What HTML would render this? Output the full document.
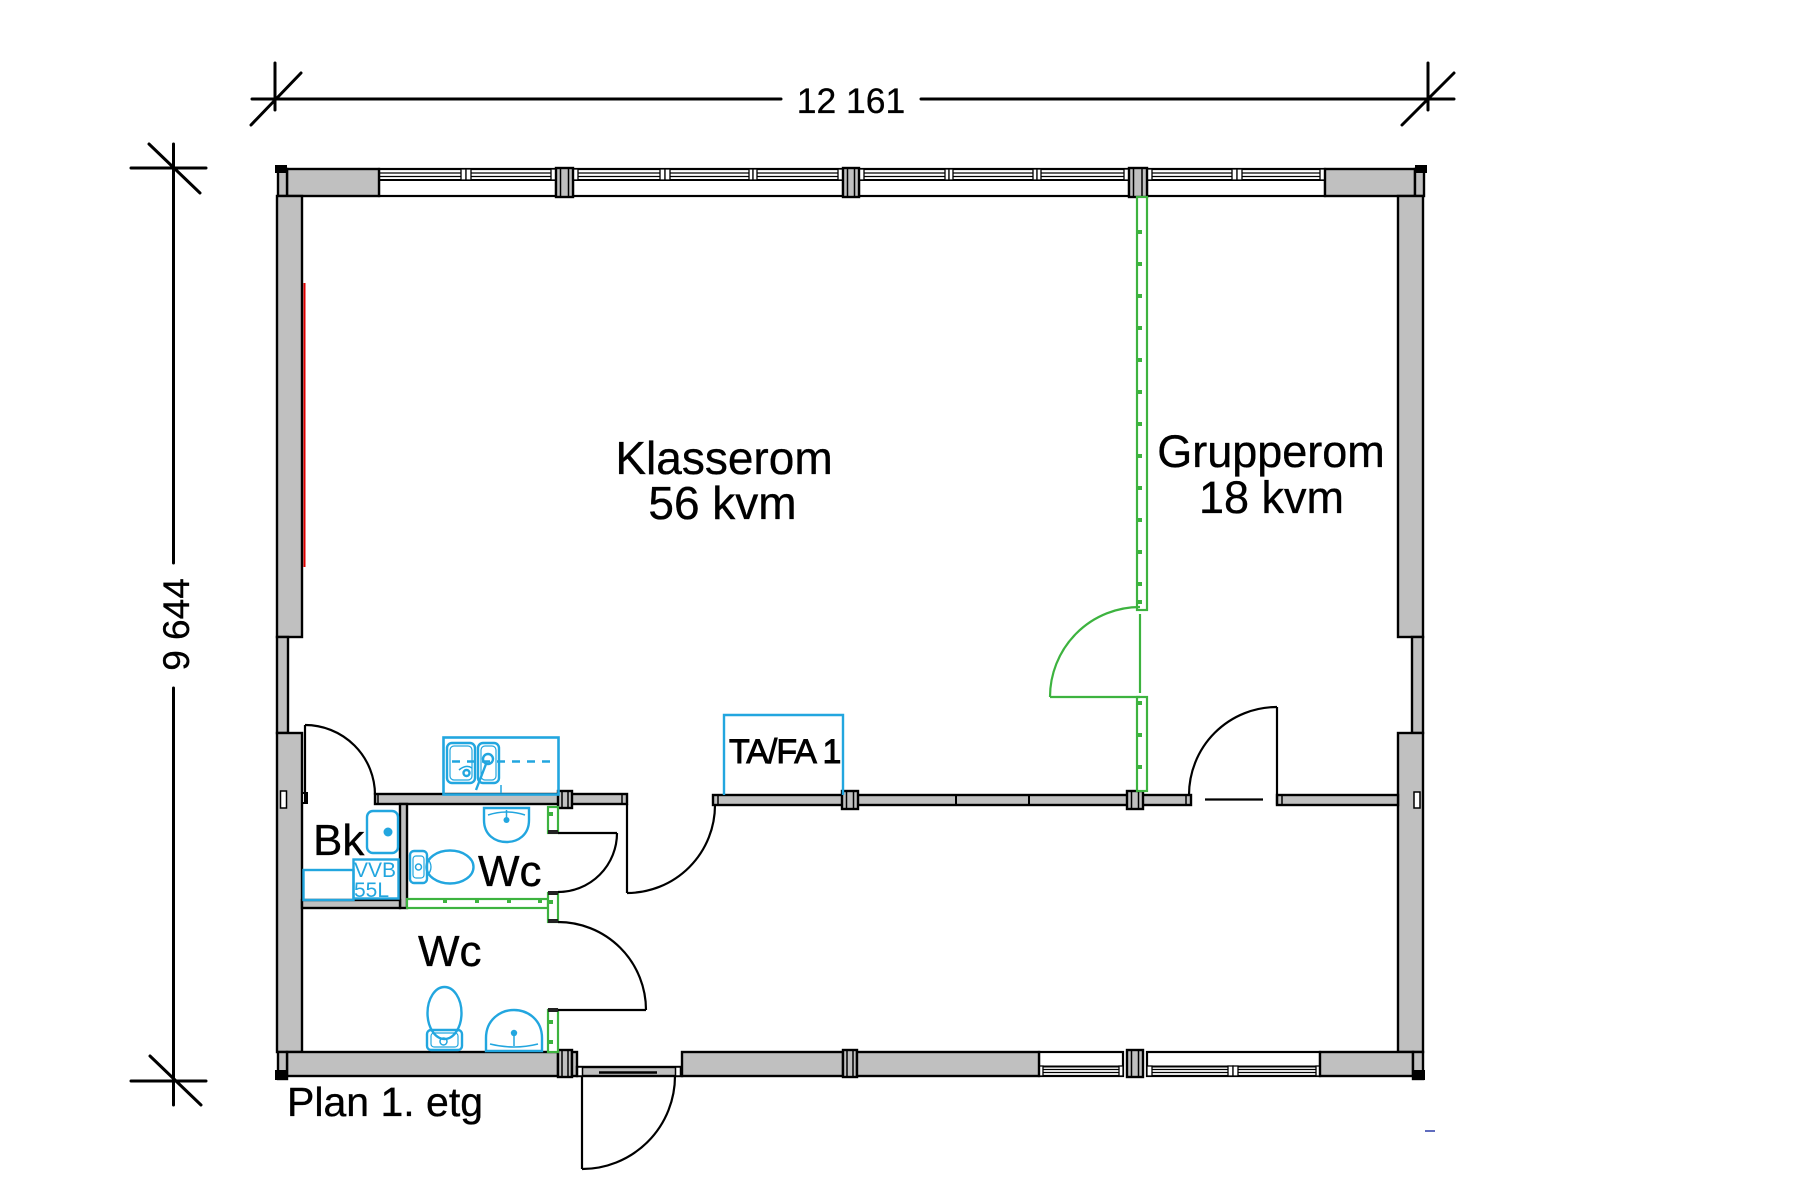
<!DOCTYPE html>
<html><head><meta charset="utf-8"><style>html,body{margin:0;padding:0;background:#fff}svg{display:block}</style></head>
<body>
<svg width="1804" height="1200" viewBox="0 0 1804 1200" xmlns="http://www.w3.org/2000/svg" font-family="'Liberation Sans', Arial, sans-serif">
<rect width="1804" height="1200" fill="#fff"/>

<!-- Dimension lines -->
<g stroke="#000" stroke-width="3" stroke-linecap="round" fill="none">
<line x1="252" y1="99" x2="781" y2="99"/>
<line x1="921" y1="99" x2="1454" y2="99"/>
<line x1="275" y1="63" x2="275" y2="110"/>
<line x1="251" y1="125" x2="301" y2="73"/>
<line x1="1428" y1="63" x2="1428" y2="110"/>
<line x1="1402" y1="125" x2="1454" y2="73"/>
<line x1="173.5" y1="144" x2="173.5" y2="563"/>
<line x1="173.5" y1="688" x2="173.5" y2="1105"/>
<line x1="131" y1="168" x2="206" y2="168"/>
<line x1="149" y1="144" x2="200" y2="193"/>
<line x1="131" y1="1081" x2="206" y2="1081"/>
<line x1="150" y1="1056" x2="201" y2="1105"/>
</g>
<text x="851" y="113" font-size="35.5" text-anchor="middle" fill="#000" stroke="#000" stroke-width="0.3">12 161</text>
<text transform="translate(189,624.5) rotate(-90)" font-size="37" text-anchor="middle" fill="#000" stroke="#000" stroke-width="0.3">9 644</text>

<!-- Windows top -->
<g stroke="#000" fill="#fff">
  <g>
    <rect x="379" y="169" width="177" height="27" stroke-width="2.2"/>
    <line x1="379" y1="173" x2="556" y2="173" stroke-width="1.2"/>
    <line x1="379" y1="176.5" x2="556" y2="176.5" stroke-width="1.2"/>
    <line x1="379" y1="180" x2="556" y2="180" stroke-width="2"/>
  </g>
  <g>
    <rect x="573" y="169" width="270" height="27" stroke-width="2.2"/>
    <line x1="573" y1="173" x2="843" y2="173" stroke-width="1.2"/>
    <line x1="573" y1="176.5" x2="843" y2="176.5" stroke-width="1.2"/>
    <line x1="573" y1="180" x2="843" y2="180" stroke-width="2"/>
  </g>
  <g>
    <rect x="859" y="169" width="270" height="27" stroke-width="2.2"/>
    <line x1="859" y1="173" x2="1129" y2="173" stroke-width="1.2"/>
    <line x1="859" y1="176.5" x2="1129" y2="176.5" stroke-width="1.2"/>
    <line x1="859" y1="180" x2="1129" y2="180" stroke-width="2"/>
  </g>
  <g>
    <rect x="1147" y="169" width="178" height="27" stroke-width="2.2"/>
    <line x1="1147" y1="173" x2="1325" y2="173" stroke-width="1.2"/>
    <line x1="1147" y1="176.5" x2="1325" y2="176.5" stroke-width="1.2"/>
    <line x1="1147" y1="180" x2="1325" y2="180" stroke-width="2"/>
  </g>
  <g stroke-width="1.3">
    <rect x="461" y="169" width="5" height="11"/><rect x="466" y="169" width="5" height="11"/>
    <rect x="551" y="169" width="5" height="11"/>
    <rect x="573" y="169" width="5" height="11"/>
    <rect x="660" y="169" width="5" height="11"/><rect x="665" y="169" width="5" height="11"/>
    <rect x="749" y="169" width="4" height="11"/><rect x="753" y="169" width="4" height="11"/>
    <rect x="838" y="169" width="5" height="11"/>
    <rect x="859" y="169" width="5" height="11"/>
    <rect x="945" y="169" width="4" height="11"/><rect x="949" y="169" width="4" height="11"/>
    <rect x="1033" y="169" width="4" height="11"/><rect x="1037" y="169" width="4" height="11"/>
    <rect x="1124" y="169" width="5" height="11"/>
    <rect x="1147" y="169" width="5" height="11"/>
    <rect x="1232" y="169" width="5" height="11"/><rect x="1237" y="169" width="5" height="11"/>
    <rect x="1320" y="169" width="5" height="11"/>
  </g>
</g>

<!-- Windows bottom -->
<g stroke="#000" fill="#fff">
  <g>
    <rect x="1039" y="1052" width="84" height="24" stroke-width="2.2"/>
    <line x1="1039" y1="1066.5" x2="1123" y2="1066.5" stroke-width="2"/>
    <line x1="1039" y1="1069.5" x2="1123" y2="1069.5" stroke-width="1.2"/>
    <line x1="1039" y1="1072.5" x2="1123" y2="1072.5" stroke-width="1.2"/>
  </g>
  <g>
    <rect x="1147" y="1052" width="173" height="24" stroke-width="2.2"/>
    <line x1="1147" y1="1066.5" x2="1320" y2="1066.5" stroke-width="2"/>
    <line x1="1147" y1="1069.5" x2="1320" y2="1069.5" stroke-width="1.2"/>
    <line x1="1147" y1="1072.5" x2="1320" y2="1072.5" stroke-width="1.2"/>
  </g>
  <g stroke-width="1.3">
    <rect x="1039" y="1066" width="4" height="10"/>
    <rect x="1119" y="1066" width="4" height="10"/>
    <rect x="1147" y="1066" width="5" height="10"/>
    <rect x="1228" y="1066" width="5" height="10"/><rect x="1233" y="1066" width="5" height="10"/>
    <rect x="1316" y="1066" width="4" height="10"/>
  </g>
</g>

<!-- Walls -->
<g fill="#c0c0c0" stroke="#000" stroke-width="2.4">
  <rect x="287" y="169" width="92" height="27"/>
  <rect x="1325" y="169" width="90" height="27"/>
  <rect x="556" y="168" width="17" height="29"/>
  <rect x="843" y="168" width="16" height="29"/>
  <rect x="1129" y="168" width="18" height="29"/>
  <rect x="278" y="169" width="9" height="27"/>
  <rect x="1415" y="169" width="9" height="27"/>
  <rect x="277" y="196" width="25" height="441"/>
  <rect x="277" y="637" width="11" height="96"/>
  <rect x="277" y="733" width="25" height="319"/>
  <rect x="1398" y="196" width="25" height="441"/>
  <rect x="1412" y="637" width="11" height="96"/>
  <rect x="1398" y="733" width="25" height="319"/>
  <rect x="287" y="1052" width="271" height="24"/>
  <rect x="558" y="1050" width="14" height="27"/>
  <rect x="572" y="1052" width="5" height="24"/>
  <rect x="577" y="1067" width="105" height="9"/>
  <rect x="682" y="1052" width="161" height="24"/>
  <rect x="843" y="1050" width="14" height="27"/>
  <rect x="857" y="1052" width="182" height="24"/>
  <rect x="1127" y="1050" width="16" height="27"/>
  <rect x="1320" y="1052" width="93" height="24"/>
  <rect x="278" y="1052" width="9" height="27"/>
  <rect x="1413" y="1052" width="10" height="27"/>
  <rect x="375" y="794" width="252" height="10"/>
  <rect x="558" y="791" width="14" height="17"/>
  <rect x="713" y="795" width="478" height="10"/>
  <rect x="842" y="791" width="16" height="18"/>
  <rect x="1127" y="791" width="16" height="18"/>
  <rect x="1277" y="795" width="121" height="10"/>
  <rect x="400" y="804" width="7" height="104"/>
  <rect x="302" y="900" width="98" height="8"/>
</g>
<g fill="#000">
  <rect x="275" y="165" width="12" height="8"/>
  <rect x="1415" y="165" width="12" height="8"/>
  <rect x="275" y="1070" width="12" height="10"/>
  <rect x="1413" y="1070" width="12" height="10"/>
</g>
<g stroke="#000" stroke-width="1.5" fill="none">
  <line x1="560.5" y1="168" x2="560.5" y2="197"/><line x1="568.5" y1="168" x2="568.5" y2="197"/>
  <line x1="847.5" y1="168" x2="847.5" y2="197"/><line x1="854.5" y1="168" x2="854.5" y2="197"/>
  <line x1="1133.5" y1="168" x2="1133.5" y2="197"/><line x1="1142" y1="168" x2="1142" y2="197"/>
  <line x1="1131.5" y1="1050" x2="1131.5" y2="1077"/><line x1="1138.5" y1="1050" x2="1138.5" y2="1077"/>
  <line x1="562" y1="1050" x2="562" y2="1077"/><line x1="568" y1="1050" x2="568" y2="1077"/>
  <line x1="847" y1="1050" x2="847" y2="1077"/><line x1="853" y1="1050" x2="853" y2="1077"/>
  <line x1="562" y1="791" x2="562" y2="808"/><line x1="568" y1="791" x2="568" y2="808"/>
  <line x1="846.5" y1="791" x2="846.5" y2="809"/><line x1="853.5" y1="791" x2="853.5" y2="809"/>
  <line x1="1131.5" y1="791" x2="1131.5" y2="809"/><line x1="1138.5" y1="791" x2="1138.5" y2="809"/>
  <line x1="956" y1="795" x2="956" y2="805" stroke-width="2"/>
  <line x1="1029" y1="795" x2="1029" y2="805" stroke-width="2"/>
  <line x1="378" y1="794" x2="378" y2="804"/>
  <line x1="622" y1="794" x2="622" y2="804"/>
  <line x1="718" y1="795" x2="718" y2="805"/>
  <line x1="1186" y1="795" x2="1186" y2="805"/>
  <line x1="1282" y1="795" x2="1282" y2="805"/>
  <rect x="280.5" y="791" width="6" height="17" fill="#fff"/>
  <rect x="1414" y="792" width="6" height="16" fill="#fff"/>
  <rect x="302" y="793" width="5" height="10" fill="#fff" stroke-width="2"/>
  <rect x="577.5" y="1067" width="5" height="9" fill="#fff"/>
  <rect x="675.5" y="1067" width="5" height="9" fill="#fff"/>
</g>
<line x1="599" y1="1072.5" x2="657" y2="1072.5" stroke="#000" stroke-width="2.5"/>

<line x1="304.5" y1="283" x2="304.5" y2="567" stroke="#e00000" stroke-width="2"/>

<!-- Green partitions -->
<g stroke="#3db33f" stroke-width="2.2" fill="#fff">
  <rect x="1137" y="197" width="10" height="413"/>
  <rect x="1137" y="697" width="10" height="94"/>
  <rect x="407" y="899" width="141" height="9"/>
  <rect x="548" y="807" width="10" height="26"/>
  <rect x="548" y="893" width="10" height="29"/>
  <rect x="548" y="1010" width="10" height="42"/>
</g>
<g fill="#3db33f">
  <rect x="1138" y="230" width="4" height="4"/><rect x="1138" y="262" width="4" height="4"/>
  <rect x="1138" y="294" width="4" height="4"/><rect x="1138" y="326" width="4" height="4"/>
  <rect x="1138" y="358" width="4" height="4"/><rect x="1138" y="390" width="4" height="4"/>
  <rect x="1138" y="422" width="4" height="4"/><rect x="1138" y="454" width="4" height="4"/>
  <rect x="1138" y="486" width="4" height="4"/><rect x="1138" y="518" width="4" height="4"/>
  <rect x="1138" y="550" width="4" height="4"/><rect x="1138" y="582" width="4" height="4"/>
  <rect x="1138" y="600" width="4" height="4"/>
  <rect x="1138" y="701" width="4" height="4"/><rect x="1138" y="733" width="4" height="4"/>
  <rect x="1138" y="765" width="4" height="4"/>
  <rect x="443" y="900" width="4" height="3"/><rect x="475" y="900" width="4" height="3"/>
  <rect x="507" y="900" width="4" height="3"/><rect x="538" y="900" width="4" height="3"/>
  <rect x="549" y="812" width="4" height="4"/><rect x="549" y="900" width="4" height="4"/>
  <rect x="549" y="1020" width="4" height="4"/><rect x="549" y="1040" width="4" height="4"/>
</g>
<g fill="#222">
  <rect x="548" y="830" width="10" height="4"/>
  <rect x="548" y="891" width="10" height="4"/>
  <rect x="548" y="919" width="10" height="4"/>
  <rect x="548" y="1008" width="10" height="4"/>
</g>

<!-- Doors -->
<g stroke="#000" stroke-width="2.2" fill="none">
  <line x1="305" y1="725" x2="305" y2="802"/>
  <path d="M305,725 A70,70 0 0 1 375,795"/>
  <line x1="558" y1="833" x2="617" y2="833"/>
  <path d="M617,833 A59,59 0 0 1 558,892"/>
  <line x1="627" y1="804" x2="627" y2="893"/>
  <path d="M627,893 A88,88 0 0 0 715,805"/>
  <line x1="558" y1="1010" x2="646" y2="1010"/>
  <path d="M558,922 A88,88 0 0 1 646,1010"/>
  <line x1="582" y1="1076" x2="582" y2="1169"/>
  <path d="M582,1169 A93,93 0 0 0 675,1076"/>
  <line x1="1277" y1="707" x2="1277" y2="805"/>
  <path d="M1277,707 A88,88 0 0 0 1189,795"/>
  <line x1="1205" y1="799.5" x2="1263" y2="799.5"/>
</g>
<g stroke="#3db33f" stroke-width="2.2" fill="none">
  <line x1="1050" y1="697" x2="1140" y2="697"/>
  <path d="M1050,697 A90,90 0 0 1 1140,607"/>
  <line x1="1140" y1="614" x2="1140" y2="693"/>
</g>

<!-- Blue fixtures -->
<g stroke="#22a6df" stroke-width="2.4" fill="none">
  <path d="M724,795 V715 H843 V795"/>
  <rect x="443.5" y="737.5" width="115" height="57" stroke-width="2.6"/>
  <rect x="447" y="743" width="28" height="40" rx="5"/>
  <rect x="450" y="746" width="22" height="34" rx="4" stroke-width="1.2"/>
  <rect x="478" y="743" width="21" height="40" rx="5"/>
  <rect x="481" y="746" width="15" height="34" rx="4" stroke-width="1.2"/>
  <line x1="452" y1="761.5" x2="556" y2="761.5" stroke-dasharray="8 7"/>
  <circle cx="488" cy="759" r="5"/>
  <line x1="486" y1="764" x2="476" y2="790"/>
  <circle cx="466.5" cy="773" r="3"/>
  <path d="M459,770 Q466,764 472,768" stroke-width="1.5"/>
  <line x1="501" y1="785" x2="501" y2="793" stroke-width="1.5"/>
  <rect x="367" y="811" width="31" height="42" rx="6"/>
  <rect x="353.5" y="859.5" width="45" height="39"/>
  <rect x="303.5" y="870" width="50" height="30"/>
  <path d="M484,808 L529,808 L529,820 C529,835 518,842 506.5,842 C495,842 484,835 484,820 Z"/>
  <path d="M488,815 Q506.5,809 525,815" stroke-width="1.5"/>
  <line x1="506.5" y1="810" x2="506.5" y2="818" stroke-width="1.5"/>
  <rect x="410" y="851" width="17" height="32" rx="4"/>
  <rect x="413" y="856" width="11" height="22" rx="3" stroke-width="1.2"/>
  <ellipse cx="450" cy="867" rx="23.5" ry="16.5"/>
  <path d="M427,858 Q435,867 427,876" stroke-width="1.3"/>
  <circle cx="418.5" cy="867" r="3" stroke-width="1.5"/>
  <ellipse cx="444.5" cy="1013" rx="17" ry="26"/>
  <rect x="427" y="1030" width="35" height="20" rx="4"/>
  <rect x="431" y="1033" width="27" height="14" rx="3" stroke-width="1.2"/>
  <circle cx="443.5" cy="1041.5" r="3.5" stroke-width="1.5"/>
  <path d="M486,1051 V1038 C486,1020 500,1010 514,1010 C528,1010 542,1020 542,1038 V1051 Z"/>
  <path d="M490,1044 Q514,1050 538,1044" stroke-width="1.5"/>
  <line x1="514" y1="1036" x2="514" y2="1046" stroke-width="1.5"/>
</g>
<g fill="#22a6df">
  <circle cx="388" cy="832" r="4.5"/>
  <circle cx="506.5" cy="820" r="3"/>
  <circle cx="514" cy="1033" r="3.2"/>
</g>
<clipPath id="vvbclip"><rect x="353.5" y="859.5" width="45" height="39"/></clipPath>
<g clip-path="url(#vvbclip)" fill="#22a6df" font-size="21">
  <text x="354" y="877">VVB</text>
  <text x="354" y="897">55L</text>
</g>
<line x1="1425" y1="1131" x2="1435" y2="1131" stroke="#2a3aa8" stroke-width="1.5"/>

<!-- Labels -->
<g fill="#000" stroke="#000" stroke-width="0.35">
  <text x="724" y="474" font-size="46" text-anchor="middle">Klasserom</text>
  <text x="722.5" y="519" font-size="46" text-anchor="middle">56 kvm</text>
  <text x="1271" y="467" font-size="45" text-anchor="middle">Grupperom</text>
  <text x="1271.5" y="513" font-size="45" text-anchor="middle">18 kvm</text>
  <text x="313" y="855" font-size="44">Bk</text>
  <text x="478" y="886" font-size="44">Wc</text>
  <text x="418" y="966" font-size="44">Wc</text>
  <text x="287" y="1116" font-size="41">Plan 1. etg</text>
  <text x="729" y="763" font-size="34" letter-spacing="-1" stroke-width="0.9">TA/FA 1</text>
</g>
</svg>
</body></html>
